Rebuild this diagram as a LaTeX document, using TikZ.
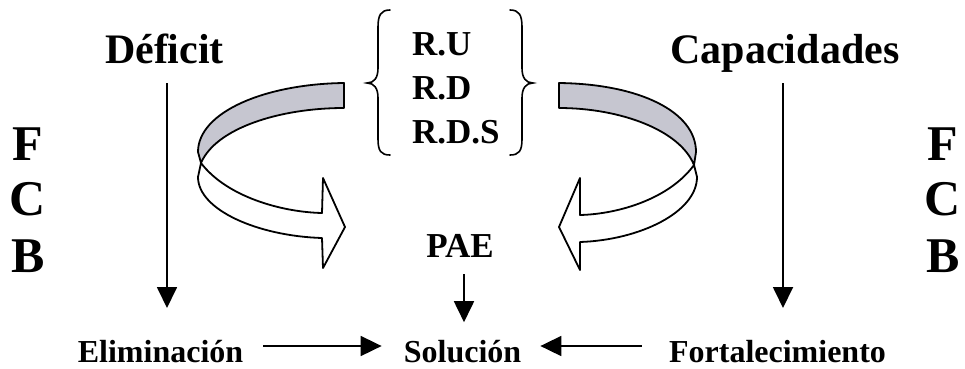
\documentclass[tikz,border=0pt]{standalone}
\usepackage{fontspec}
\setmainfont{Liberation Serif}
\usetikzlibrary{arrows.meta}
\definecolor{band}{RGB}{198,198,208}
\begin{document}
\begin{tikzpicture}[x=1pt,y=-1pt,
  lbl/.style={inner sep=0pt, anchor=base, font=\bfseries\fontsize{#1}{#1}\selectfont},
  arr/.style={line width=1.8pt, -{Triangle[length=21pt,width=20pt]}},
  ribbon/.style={line width=1.8pt, line join=round},
  brc/.style={line width=1.6pt, line cap=round}]
\useasboundingbox (0,0) rectangle (965,368);

% titles
\node[lbl=42] (def) at (164.5,63) {Déficit};
\node[lbl=42] (cap) at (785,63) {Capacidades};

% F C B left and right
\node[lbl=50] (f1) at (28,160) {F};
\node[lbl=50] (c1) at (28,215) {C};
\node[lbl=50] (b1) at (28,272) {B};
\node[lbl=50] (f2) at (943,160) {F};
\node[lbl=50] (c2) at (943,215) {C};
\node[lbl=50] (b2) at (943,272) {B};

% R.U R.D R.D.S
\node[lbl=35, anchor=base west] (ru) at (412,55) {R.U};
\node[lbl=35, anchor=base west] (rd) at (412,99) {R.D};
\node[lbl=35, anchor=base west] (rds) at (412,143) {R.D.S};

% braces
\draw[brc] (390,10) .. controls (381,10) and (378,15) .. (378,27) -- (378,68)
  .. controls (378,78) and (374,83) .. (367,83)
  .. controls (374,83) and (378,88) .. (378,98) -- (378,139)
  .. controls (378,151) and (381,155) .. (390,155);
\draw[brc] (510,10) .. controls (519,10) and (522,15) .. (522,27) -- (522,68)
  .. controls (522,78) and (526,83) .. (533,83)
  .. controls (526,83) and (522,88) .. (522,98) -- (522,139)
  .. controls (522,151) and (519,155) .. (510,155);

% bottom labels
\node[lbl=35] (pae) at (460,257) {PAE};
\node[lbl=32] (eli) at (160.5,362) {Eliminación};
\node[lbl=32] (sol) at (462.5,362) {Solución};
\node[lbl=32] (fort) at (777.5,362) {Fortalecimiento};

% left ribbon arrow
\draw[ribbon, fill=band] (344,83) .. controls (265,84) and (198,112) .. (198,152)
  -- (201,163) .. controls (216,128) and (280,108) .. (344,108) -- cycle;
\draw[ribbon, fill=white] (201,163) .. controls (226,196) and (280,212) .. (322,213)
  -- (323,178) -- (345,227) -- (323,268) -- (322,238)
  .. controls (258,236) and (198,210) .. (198,177) -- cycle;

% right ribbon arrow
\draw[ribbon, fill=band] (559,83) .. controls (640,84) and (696,112) .. (696,152)
  -- (694,165) .. controls (680,130) and (620,108) .. (559,108) -- cycle;
\draw[ribbon, fill=white] (694,165) .. controls (670,198) and (620,214) .. (580,215)
  -- (580,178) -- (559,227) -- (580,270) -- (580,242)
  .. controls (640,240) and (697,212) .. (697,177) -- cycle;

% connectors
\coordinate (d1) at (167,83);
\coordinate (d2) at (167,308);
\coordinate (k1) at (783,83);
\coordinate (k2) at (783,308);
\draw[arr] (d1) -- (d2);
\draw[arr] (k1) -- (k2);
\draw[arr] (pae.south) ++(4,17) coordinate (p1) (p1) -- ++(0,48);
\draw[arr] ([xshift=20pt]eli.east |- 0,346) -- ([xshift=-22pt]sol.west |- 0,346);
\draw[arr] ([xshift=-27pt]fort.west |- 0,346) -- ([xshift=19pt]sol.east |- 0,346);
\end{tikzpicture}
\end{document}
